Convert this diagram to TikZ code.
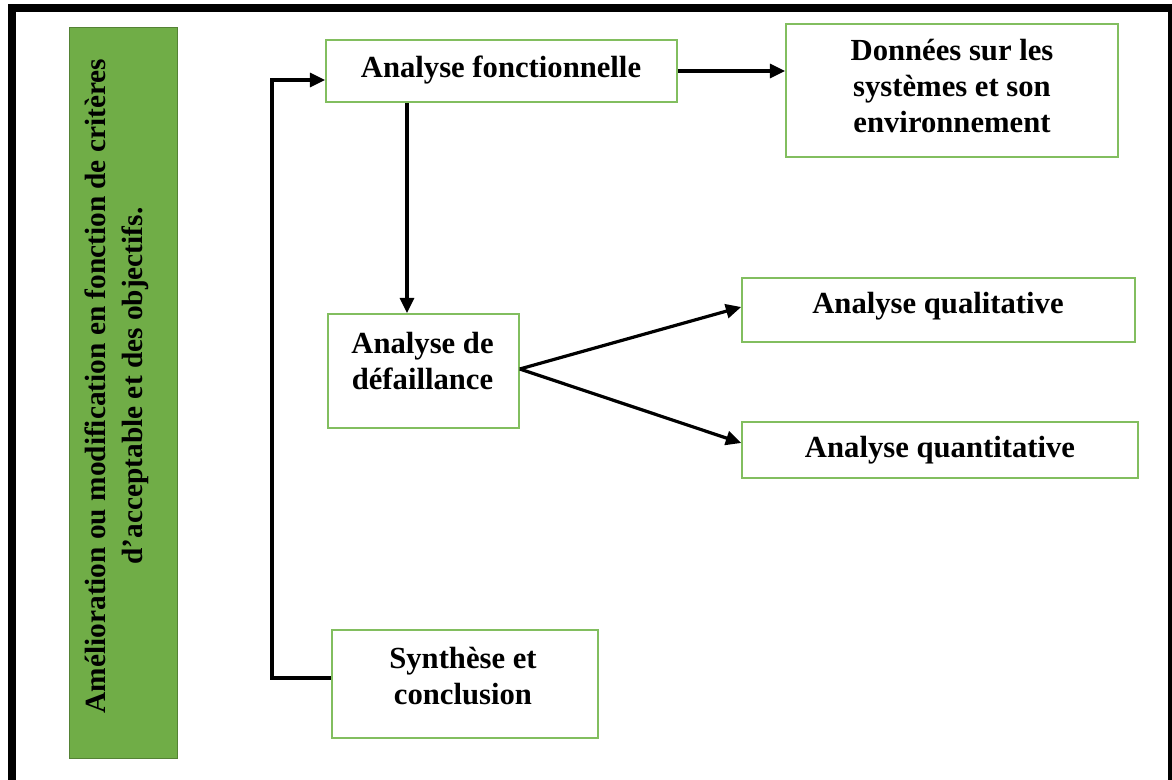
\documentclass[tikz,border=0pt]{standalone}
\usepackage{fontspec}
\setmainfont{Liberation Serif}
\usetikzlibrary{arrows.meta}
\definecolor{boxgreen}{RGB}{130,190,95}
\definecolor{barfill}{RGB}{112,173,71}
\definecolor{bardraw}{RGB}{84,130,53}
\begin{document}
\begin{tikzpicture}[x=0.75pt,y=-0.75pt,
  box/.style={draw=boxgreen, line width=1.2pt, fill=white, inner sep=0pt},
  lbl/.style={font=\fontsize{23}{27}\selectfont\bfseries, align=center, inner sep=0pt},
  tip/.style={-{Triangle[length=11.5pt,width=10.5pt]}},
  arr/.style={line width=2.4pt, tip},
  feed/.style={line width=2.4pt, line join=miter, tip}]
\useasboundingbox (0,0) rectangle (1172,780);
\clip (0,0) rectangle (1172,780);
% outer frame
\draw[line width=6pt] (12,8) rectangle (1172,800);

% vertical banner
\node[draw=bardraw, fill=barfill, line width=0.75pt, minimum width=81pt, minimum height=547.5pt, inner sep=0pt] (bar) at (123,393) {};
\node[lbl, font=\fontsize{22}{28}\selectfont\bfseries, rotate=90] (bartxt) at (117,386) {Amélioration ou modification en fonction de critères\\d’acceptable et des objectifs.};

% boxes (sizes in pt = px * 0.75)
\node[box, minimum width=263.25pt, minimum height=46.5pt] (fa) at (501.5,71) {};
\node[box, minimum width=249pt, minimum height=99.75pt] (dn) at (952,90.5) {};
\node[box, minimum width=143.25pt, minimum height=85.5pt] (fd) at (423.5,371) {};
\node[box, minimum width=294.75pt, minimum height=48pt] (qa) at (938.5,310) {};
\node[box, minimum width=297pt, minimum height=42pt] (qn) at (940,450) {};
\node[box, minimum width=199.5pt, minimum height=81pt] (sc) at (465,684) {};

% labels
\node[lbl] (fa-t) at (501,70) {Analyse fonctionnelle};
\node[lbl] (dn-t) at (952,86) {Données sur les\\systèmes et son\\environnement};
\node[lbl] (fd-t) at (422.5,361) {Analyse de\\défaillance};
\node[lbl] (qa-t) at (938,306) {Analyse qualitative};
\node[lbl] (qn-t) at (940,450) {Analyse quantitative};
\node[lbl] (sc-t) at (463,676) {Synthèse et\\conclusion};

% connectors
\coordinate (dx) at (407,0);
\coordinate (fb) at (272,0);
\coordinate (fain) at ([yshift=-6.75pt]fa.west);
\coordinate (scout) at ([yshift=4.5pt]sc.west);
\coordinate (fdout) at ([yshift=1.5pt]fd.east);
\draw[arr] (fa.east) -- (dn.west |- fa.east);
\draw[arr] (fa.south -| dx) -- (fd.north -| dx);
\draw[arr] (fdout) -- ([yshift=2.25pt]qa.west);
\draw[arr] (fdout) -- ([yshift=5.25pt]qn.west);
\draw[feed] (scout) -- (scout -| fb) -- (fb |- fain) -- (fain);
\end{tikzpicture}
\end{document}
